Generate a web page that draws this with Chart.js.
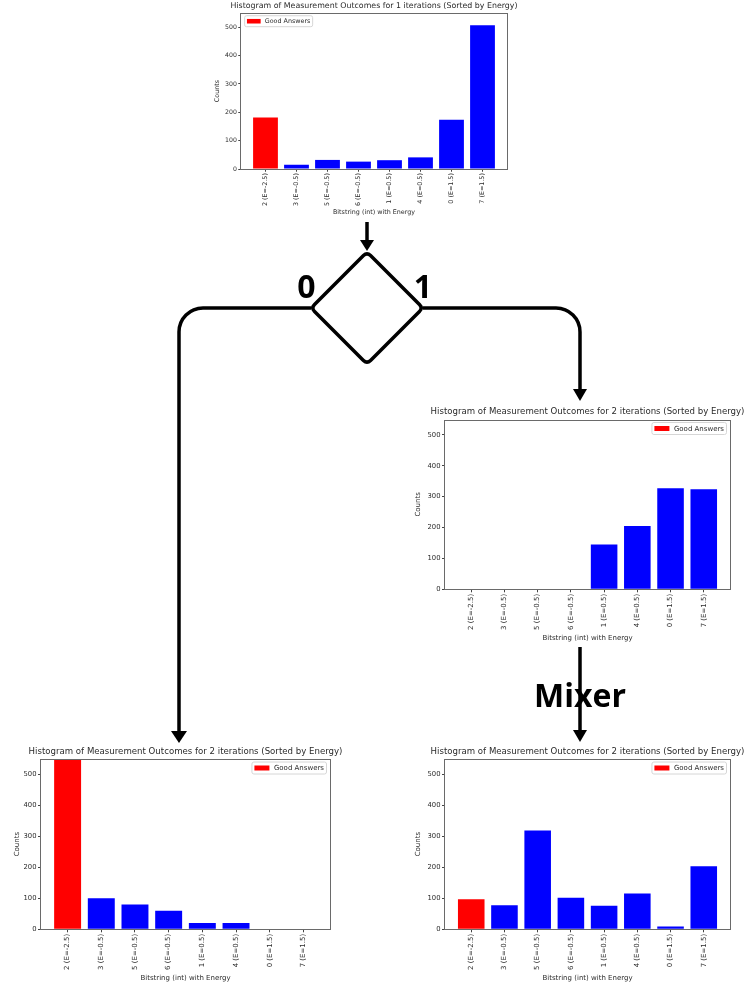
<!DOCTYPE html>
<html>
<head>
<meta charset="utf-8">
<script src="https://cdn.jsdelivr.net/npm/chart.js@4.4.0/dist/chart.umd.min.js"></script>
<style>
  html, body { margin: 0; padding: 0; background: #fff; }
  body { width: 745px; height: 989px; position: relative; overflow: hidden; }
  canvas { position: absolute; }
  #flow { position: absolute; left: 0; top: 0; }
</style>
</head>
<body>
<canvas id="c1"></canvas>
<canvas id="c2"></canvas>
<canvas id="c3"></canvas>
<canvas id="c4"></canvas>

<svg id="flow" width="745" height="989" viewBox="0 0 745 989">
  <g fill="none" stroke="#000" stroke-width="3.5" stroke-linejoin="round">
    <path d="M367,222 V242"/>
    <path d="M363.46,255.54 Q367,252 370.54,255.54 L419.46,304.46 Q423,308 419.46,311.54 L370.54,360.46 Q367,364 363.46,360.46 L314.54,311.54 Q311,308 314.54,304.46 Z"/>
    <path d="M311,308 H203 A24,24 0 0 0 179,332 V733"/>
    <path d="M423,308 H556 A24,24 0 0 1 580,332 V391"/>
    <path d="M580,647 V732"/>
  </g>
  <g fill="#000">
    <polygon points="360,240 374,240 367,251"/>
    <polygon points="171,731 187,731 179,743"/>
    <polygon points="573,389 587,389 580,401"/>
    <polygon points="573,730 587,730 580,742"/>
  </g>
  <g font-family="Open Sans" font-weight="700" font-size="32" text-anchor="middle" fill="#000">
    <text x="306.5" y="298">0</text>
    <text x="423" y="298">1</text>
    <text x="580" y="706.5">Mixer</text>
  </g>
</svg>

<script>
// Outcomes, sorted by energy
const bitstrings = [2, 3, 5, 6, 1, 4, 0, 7];
const energies = [-2.5, -0.5, -0.5, -0.5, 0.5, 0.5, 1.5, 1.5];

// Counts per outcome for each histogram
const countsIter1 = [182, 15, 32, 26, 31, 41, 174, 507];
const countsBranch1 = [0, 0, 0, 0, 145, 205, 327, 324];
const countsBranch0 = [550, 100, 80, 60, 20, 20, 0, 0];
const countsMixer = [97, 78, 319, 102, 76, 116, 9, 204];

const yTicks = [0, 100, 200, 300, 400, 500];
const Y_MAX = 550;

const tickLabels = bitstrings.map((b, i) => `${b} (E=${energies[i]})`);
const goodEnergy = Math.min(...energies);

const RED = '#ff0000';
const BLUE = '#0000ff';
const TEXT = '#2b2b2b';
const FONT = 'DejaVu Sans';

// Box around the plotting area (all four spines)
const framePlugin = {
  id: 'frame',
  afterDatasetsDraw(chart) {
    const { ctx, chartArea: a } = chart;
    ctx.save();
    ctx.strokeStyle = '#6a6a6a';
    ctx.lineWidth = 1;
    ctx.strokeRect(Math.round(a.left) - 0.5, Math.round(a.top) + 0.5,
                   Math.round(a.right) - Math.round(a.left) + 1, Math.round(a.bottom) - Math.round(a.top));
    ctx.restore();
  }
};

// In-axes legend box showing the "Good Answers" patch
const goodLegendPlugin = {
  id: 'goodLegend',
  afterDraw(chart, args, opts) {
    const { ctx, chartArea: a } = chart;
    const s = opts.s;
    const fs = 7 * s;
    const text = chart.data.datasets[0].label;
    ctx.save();
    ctx.font = `${fs}px "${FONT}"`;
    const tw = ctx.measureText(text).width;
    const padX = 2.5 * s, patchW = 15 * s, patchH = 5 * s, gap = 4.5 * s;
    const boxW = padX + patchW + gap + tw + padX;
    const boxH = 12 * s;
    const bx = opts.side === 'left' ? a.left + 4 * s : a.right - 3.5 * s - boxW;
    const by = a.top + 3 * s;
    ctx.beginPath();
    ctx.roundRect(bx, by, boxW, boxH, 2 * s);
    ctx.fillStyle = 'rgba(255,255,255,0.8)';
    ctx.fill();
    ctx.strokeStyle = '#d6d6d6';
    ctx.lineWidth = 1;
    ctx.stroke();
    ctx.fillStyle = RED;
    ctx.fillRect(bx + padX, by + (boxH - patchH) / 2, patchW, patchH);
    ctx.fillStyle = TEXT;
    ctx.textBaseline = 'middle';
    ctx.textAlign = 'left';
    ctx.fillText(text, bx + padX + patchW + gap, by + boxH / 2 + 0.5);
    ctx.restore();
  }
};

const panels = [
  { id: 'c1', counts: countsIter1, iters: 1, legend: 'left', s: 0.914,
    x: 210, y: 0, L: 241, T: 13, R: 507, B: 169, titleY: 5.7, xTitleY: 212, countsX: 217 },
  { id: 'c2', counts: countsBranch1, iters: 2, legend: 'right', s: 1,
    x: 410, y: 400, L: 445, T: 419.5, R: 730, B: 589.3, titleY: 411.5, xTitleY: 637.7, countsX: 418 },
  { id: 'c3', counts: countsBranch0, iters: 2, legend: 'right', s: 1,
    x: 0, y: 740, L: 41, T: 759, R: 330, B: 929.3, titleY: 751.5, xTitleY: 977.7, countsX: 16.7 },
  { id: 'c4', counts: countsMixer, iters: 2, legend: 'right', s: 1,
    x: 410, y: 740, L: 445, T: 759, R: 730, B: 929.3, titleY: 751.5, xTitleY: 977.7, countsX: 418 }
];

function buildHistogram(p) {
  const s = p.s;
  const yw = p.L - p.x;                 // width reserved for the left axis
  const w = Math.round(p.R + yw - p.x); // mirrored gutter on the right keeps the title centred on the axes
  const titleSize = 8.6 * s, titleLH = titleSize * 1.2;
  const labelSize = 7 * s, labelLH = labelSize * 1.2;
  const yTickSize = 6.8 * s;
  const titlePadTop = p.titleY - p.y - titleLH / 2;
  const titlePadBottom = (p.T - p.y) - titlePadTop - titleLH;
  const xTitlePad = 3 * s;
  const h = Math.round(p.xTitleY + labelLH / 2 + xTitlePad - p.y);
  const xh = p.y + h - p.B;

  const cvs = document.getElementById(p.id);
  cvs.width = w;
  cvs.height = h;
  cvs.style.left = p.x + 'px';
  cvs.style.top = p.y + 'px';

  return new Chart(cvs, {
    type: 'bar',
    data: {
      datasets: [{
        label: 'Good Answers',
        data: p.counts.map((v, i) => ({ x: i, y: v })),
        backgroundColor: ctx => energies[ctx.dataIndex] === goodEnergy ? RED : BLUE,
        borderWidth: 0,
        categoryPercentage: 0.8,
        barPercentage: 1.0
      }]
    },
    options: {
      responsive: false,
      animation: false,
      devicePixelRatio: 1,
      layout: { padding: 0 },
      plugins: {
        legend: { display: false },
        tooltip: { enabled: false },
        title: {
          display: true,
          text: `Histogram of Measurement Outcomes for ${p.iters} iterations (Sorted by Energy)`,
          color: TEXT,
          font: { family: FONT, size: titleSize, weight: 'normal', lineHeight: 1.2 },
          padding: { top: titlePadTop, bottom: titlePadBottom }
        },
        goodLegend: { side: p.legend, s: s }
      },
      scales: {
        x: {
          type: 'linear',
          position: 'bottom',
          min: -0.79,
          max: 7.79,
          offset: false,
          afterBuildTicks: sc => { sc.ticks = bitstrings.map((b, i) => ({ value: i })); },
          afterFit: sc => { sc.height = xh; },
          ticks: {
            autoSkip: false,
            includeBounds: false,
            minRotation: 90,
            maxRotation: 90,
            padding: 1.5 * s,
            color: TEXT,
            font: { family: FONT, size: labelSize },
            callback: v => tickLabels[v]
          },
          grid: { offset: false, drawOnChartArea: false, drawTicks: true, tickLength: 3 * s, tickColor: '#444', tickWidth: 1 },
          border: { display: false },
          title: {
            display: true,
            text: 'Bitstring (int) with Energy',
            color: TEXT,
            font: { family: FONT, size: labelSize, lineHeight: 1.2 },
            padding: { top: 0, bottom: xTitlePad }
          }
        },
        y: {
          type: 'linear',
          position: 'left',
          min: 0,
          max: Y_MAX,
          afterBuildTicks: sc => { sc.ticks = yTicks.map(v => ({ value: v })); },
          afterFit: sc => { sc.width = yw; },
          ticks: { padding: 1.5 * s, color: TEXT, font: { family: FONT, size: yTickSize }, includeBounds: false },
          grid: { drawOnChartArea: false, drawTicks: true, tickLength: 3 * s, tickColor: '#444', tickWidth: 1 },
          border: { display: false },
          title: {
            display: true,
            text: 'Counts',
            color: TEXT,
            font: { family: FONT, size: labelSize, lineHeight: 1.2 },
            padding: { top: p.countsX - p.x - labelLH / 2, bottom: 0 }
          }
        },
        yGutter: {
          type: 'linear',
          position: 'right',
          display: true,
          afterFit: sc => { sc.width = yw; },
          ticks: { display: false },
          grid: { display: false },
          border: { display: false }
        }
      }
    },
    plugins: [framePlugin, goodLegendPlugin]
  });
}

panels.forEach(buildHistogram);
</script>
</body>
</html>
